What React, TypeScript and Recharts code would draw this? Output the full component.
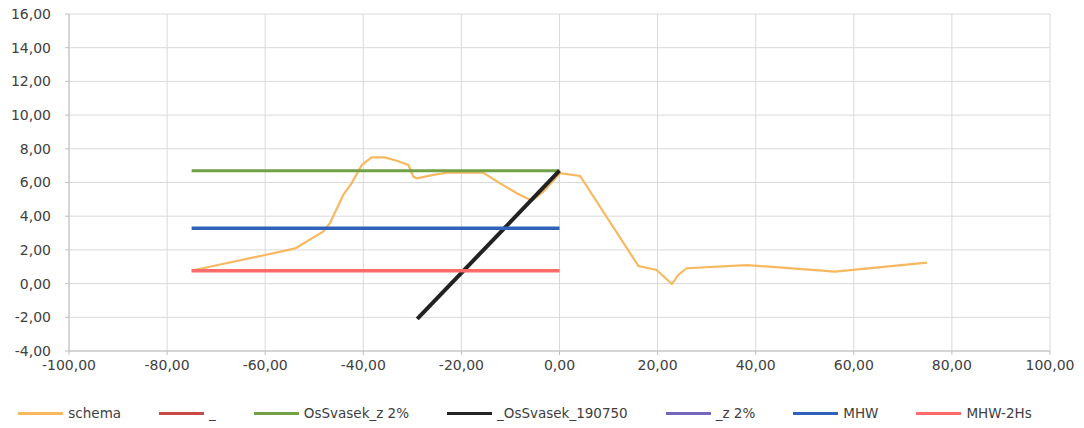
import React from 'react';
import { LineChart, Line, XAxis, YAxis, CartesianGrid, Legend } from 'recharts';

const schemaX = [-75.0, -71.3, -60.0, -53.9, -48.2, -46.8, -44.1, -42.4, -40.3, -38.3, -35.6, -33.2, -30.8, -29.8, -29.1, -25.7, -23.0, -15.5, -12.1, -8.7, -5.6, -3.3, 0.1, 4.2, 16.1, 19.8, 22.9, 23.5, 24.2, 25.9, 38.2, 56.2, 74.9];
const schemaY = [0.77, 1.0, 1.7, 2.09, 3.08, 3.58, 5.26, 5.95, 7.04, 7.49, 7.49, 7.29, 7.04, 6.34, 6.25, 6.45, 6.58, 6.58, 5.95, 5.36, 4.92, 5.45, 6.55, 6.39, 1.04, 0.81, -0.02, 0.21, 0.51, 0.91, 1.1, 0.71, 1.24];

const levelX = [-75, 0];
const osSvasekZ2 = [6.7, 6.7];
const mhw = [3.28, 3.28];
const mhw2Hs = [0.77, 0.77];
const blackX = [-29, 0];
const blackY = [-2.1, 6.7];

const xTicks = [-100, -80, -60, -40, -20, 0, 20, 40, 60, 80, 100];
const yTicks = [-4, -2, 0, 2, 4, 6, 8, 10, 12, 14, 16];
const seriesOrder = ['schema', '_', 'OsSvasek_z 2%', '_OsSvasek_190750', '_z 2%', 'MHW', 'MHW-2Hs'];

const toPts = (xs: number[], ys: number[]) => xs.map((x, i) => ({ x, y: ys[i] }));

const schemaData = toPts(schemaX, schemaY);
const greenData = toPts(levelX, osSvasekZ2);
const blueData = toPts(levelX, mhw);
const pinkData = toPts(levelX, mhw2Hs);
const blackData = toPts(blackX, blackY);
const emptyData: { x: number; y: number }[] = [];

const fmt = (v: number) => v.toFixed(2).replace('.', ',');
const FONT = '"DejaVu Sans", sans-serif';

const LegendContent = (props: any) => {
  const items = [...(props.payload || [])].sort(
    (a: any, b: any) => seriesOrder.indexOf(a.value) - seriesOrder.indexOf(b.value)
  );
  return (
    <div style={{ display: 'flex', justifyContent: 'center', alignItems: 'center', height: 30, gap: 38, fontFamily: FONT, fontSize: 13.5, color: '#404040' }}>
      {items.map((it: any, i: number) => (
        <div key={i} style={{ display: 'flex', alignItems: 'center' }}>
          <div style={{ width: 45, height: 3, background: it.color, marginRight: 5 }} />
          <span>{it.value}</span>
        </div>
      ))}
    </div>
  );
};

export default function App() {
  return (
    <div style={{ position: 'absolute', left: 0, top: 0, background: '#fff' }}>
      <LineChart width={1084} height={428} margin={{ top: 14, right: 34, left: 0, bottom: 0 }}>
        <CartesianGrid stroke="#d9d9d9" />
        <XAxis
          type="number"
          dataKey="x"
          domain={[-100, 100]}
          ticks={xTicks}
          tickFormatter={fmt}
          height={47}
          stroke="#bfbfbf"
          tickSize={4}
          tickMargin={5}
          tick={{ fill: '#404040', fontFamily: FONT, fontSize: 14 }}
          allowDataOverflow
        />
        <YAxis
          type="number"
          dataKey="y"
          domain={[-4, 16]}
          ticks={yTicks}
          tickFormatter={fmt}
          width={69}
          stroke="#bfbfbf"
          tickSize={4}
          tickMargin={14}
          tick={{ fill: '#404040', fontFamily: FONT, fontSize: 14 }}
          allowDataOverflow
        />
        <Legend verticalAlign="bottom" content={LegendContent} wrapperStyle={{ height: 30 }} />
        <Line name="schema" data={schemaData} dataKey="y" stroke="#F8B860" strokeWidth={2.2} dot={false} isAnimationActive={false} type="linear" />
        <Line name="_" data={emptyData} dataKey="y" stroke="#C8494A" strokeWidth={3} dot={false} isAnimationActive={false} />
        <Line name="OsSvasek_z 2%" data={greenData} dataKey="y" stroke="#70A146" strokeWidth={3} dot={false} isAnimationActive={false} />
        <Line name="_OsSvasek_190750" data={blackData} dataKey="y" stroke="#222222" strokeWidth={4} dot={false} isAnimationActive={false} />
        <Line name="_z 2%" data={emptyData} dataKey="y" stroke="#7366BD" strokeWidth={3} dot={false} isAnimationActive={false} />
        <Line name="MHW" data={blueData} dataKey="y" stroke="#2F62B8" strokeWidth={3.5} dot={false} isAnimationActive={false} />
        <Line name="MHW-2Hs" data={pinkData} dataKey="y" stroke="#FF6B6B" strokeWidth={3.5} dot={false} isAnimationActive={false} />
      </LineChart>
    </div>
  );
}
